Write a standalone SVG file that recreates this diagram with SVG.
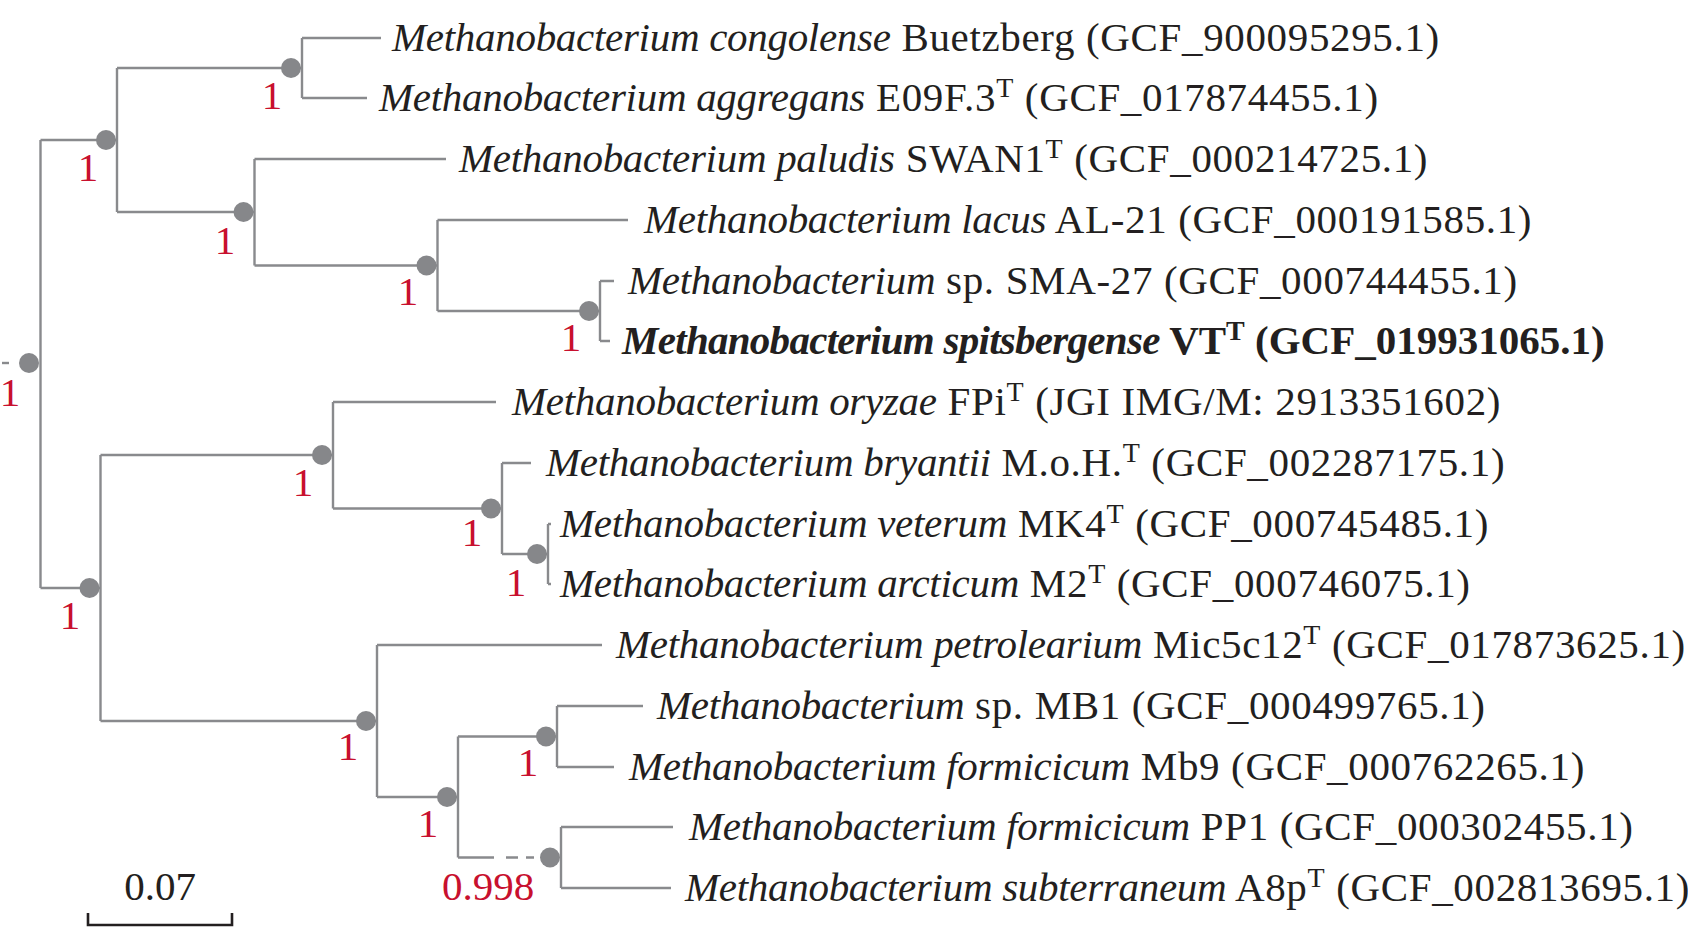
<svg xmlns="http://www.w3.org/2000/svg" width="1688" height="930" viewBox="0 0 1688 930">
<style>
.br{fill:none;stroke:#898a8d;stroke-width:2.4;stroke-linecap:butt}
.dot{fill:#86878a}
.lab{font-family:"Liberation Serif","Times New Roman",serif;font-size:41px;fill:#c8102e;text-anchor:middle}
.tx{font-family:"Liberation Serif","Times New Roman",serif;font-size:41px;fill:#231f20;letter-spacing:0.65px}
.it{font-style:italic;letter-spacing:-0.3px}
.tx.b{font-weight:bold;letter-spacing:0px}
.b .it{letter-spacing:-0.72px}
.sup{font-size:28px}
.sc{fill:none;stroke:#231f20;stroke-width:2.6}
.scl{font-family:"Liberation Serif","Times New Roman",serif;font-size:41px;fill:#231f20;text-anchor:middle}
</style>
<rect width="1688" height="930" fill="#ffffff"/>
<g id="connectors">
<path class="br" d="M2,363 H9"/>
<path class="br" d="M40.5,140 V588 M40.5,140 H117 M40.5,588 H100.5"/>
<path class="br" d="M117,68 V212 M117,68 H302 M117,212 H254.5"/>
<path class="br" d="M302,38 V98 M302,38 H381 M302,98 H367"/>
<path class="br" d="M254.5,159 V265.5 M254.5,159 H446 M254.5,265.5 H437.5"/>
<path class="br" d="M437.5,220 V311 M437.5,220 H628 M437.5,311 H600"/>
<path class="br" d="M600,281 V341 M600,281 H614 M600,341 H610"/>
<path class="br" d="M100.5,455 V721 M100.5,455 H333 M100.5,721 H377"/>
<path class="br" d="M333,402 V508.5 M333,402 H496 M333,508.5 H502"/>
<path class="br" d="M502,463 V554 M502,463 H531 M502,554 H548"/>
<path class="br" d="M548,524 V584 M548,524 H551 M548,584 H551"/>
<path class="br" d="M377,645 V797 M377,645 H602 M377,797 H458"/>
<path class="br" d="M458,736.5 V857.5 M458,736.5 H557 M458,857.5 H494 M506,857.5 H518 M526,857.5 H534"/>
<path class="br" d="M557,706 V767 M557,706 H643 M557,767 H614"/>
<path class="br" d="M561,827 V888 M561,827 H673 M561,888 H671"/>
</g>
<g id="node-root"><circle class="dot" cx="29" cy="363" r="10"/><text class="lab" x="10" y="406">1</text></g>
<g id="node-B"><circle class="dot" cx="106" cy="140" r="10"/><text class="lab" x="88" y="181">1</text></g>
<g id="node-A"><circle class="dot" cx="291" cy="68" r="10"/><text class="lab" x="272" y="109">1</text></g>
<g id="node-C"><circle class="dot" cx="243.5" cy="212" r="10"/><text class="lab" x="225" y="254">1</text></g>
<g id="node-D"><circle class="dot" cx="426.5" cy="265.5" r="10"/><text class="lab" x="408" y="305">1</text></g>
<g id="node-E"><circle class="dot" cx="589" cy="311" r="10"/><text class="lab" x="571" y="351">1</text></g>
<g id="node-I"><circle class="dot" cx="89.5" cy="588" r="10"/><text class="lab" x="70" y="629">1</text></g>
<g id="node-F"><circle class="dot" cx="322" cy="455" r="10"/><text class="lab" x="303" y="496">1</text></g>
<g id="node-G"><circle class="dot" cx="491" cy="508.5" r="10"/><text class="lab" x="472" y="546">1</text></g>
<g id="node-H"><circle class="dot" cx="537" cy="554" r="10"/><text class="lab" x="516" y="596">1</text></g>
<g id="node-J"><circle class="dot" cx="366" cy="721" r="10"/><text class="lab" x="348" y="760">1</text></g>
<g id="node-K"><circle class="dot" cx="447" cy="797" r="10"/><text class="lab" x="428" y="837">1</text></g>
<g id="node-L"><circle class="dot" cx="546" cy="736.5" r="10"/><text class="lab" x="528" y="776">1</text></g>
<g id="node-M"><circle class="dot" cx="550" cy="857.5" r="10"/><text class="lab" x="488" y="900">0.998</text></g>
<g id="leaf-congolense"><text class="tx" x="392" y="51"><tspan class="it">Methanobacterium congolense</tspan> Buetzberg (GCF_900095295.1)</text></g>
<g id="leaf-aggregans"><text class="tx" x="379" y="111"><tspan class="it">Methanobacterium aggregans</tspan> E09F.3<tspan class="sup" dy="-14">T</tspan><tspan dy="14"> (GCF_017874455.1)</tspan></text></g>
<g id="leaf-paludis"><text class="tx" x="459" y="172"><tspan class="it">Methanobacterium paludis</tspan> SWAN1<tspan class="sup" dy="-14">T</tspan><tspan dy="14"> (GCF_000214725.1)</tspan></text></g>
<g id="leaf-lacus"><text class="tx" x="644" y="233"><tspan class="it">Methanobacterium lacus</tspan> AL-21 (GCF_000191585.1)</text></g>
<g id="leaf-SMA27"><text class="tx" x="628" y="294"><tspan class="it">Methanobacterium</tspan> sp. SMA-27 (GCF_000744455.1)</text></g>
<g id="leaf-spitsbergense"><text class="tx b" x="622" y="354"><tspan class="it">Methanobacterium spitsbergense</tspan> VT<tspan class="sup" dy="-14">T</tspan><tspan dy="14"> (GCF_019931065.1)</tspan></text></g>
<g id="leaf-oryzae"><text class="tx" x="512" y="415"><tspan class="it">Methanobacterium oryzae</tspan> FPi<tspan class="sup" dy="-14">T</tspan><tspan dy="14"> (JGI IMG/M: 2913351602)</tspan></text></g>
<g id="leaf-bryantii"><text class="tx" x="546" y="476"><tspan class="it">Methanobacterium bryantii</tspan> M.o.H.<tspan class="sup" dy="-14">T</tspan><tspan dy="14"> (GCF_002287175.1)</tspan></text></g>
<g id="leaf-veterum"><text class="tx" x="560" y="537"><tspan class="it">Methanobacterium veterum</tspan> MK4<tspan class="sup" dy="-14">T</tspan><tspan dy="14"> (GCF_000745485.1)</tspan></text></g>
<g id="leaf-arcticum"><text class="tx" x="560" y="597"><tspan class="it">Methanobacterium arcticum</tspan> M2<tspan class="sup" dy="-14">T</tspan><tspan dy="14"> (GCF_000746075.1)</tspan></text></g>
<g id="leaf-petrolearium"><text class="tx" x="616" y="658"><tspan class="it">Methanobacterium petrolearium</tspan> Mic5c12<tspan class="sup" dy="-14">T</tspan><tspan dy="14"> (GCF_017873625.1)</tspan></text></g>
<g id="leaf-MB1"><text class="tx" x="657" y="719"><tspan class="it">Methanobacterium</tspan> sp. MB1 (GCF_000499765.1)</text></g>
<g id="leaf-Mb9"><text class="tx" x="629" y="780"><tspan class="it">Methanobacterium formicicum</tspan> Mb9 (GCF_000762265.1)</text></g>
<g id="leaf-PP1"><text class="tx" x="689" y="840"><tspan class="it">Methanobacterium formicicum</tspan> PP1 (GCF_000302455.1)</text></g>
<g id="leaf-subterraneum"><text class="tx" x="685" y="901"><tspan class="it">Methanobacterium subterraneum</tspan> A8p<tspan class="sup" dy="-14">T</tspan><tspan dy="14"> (GCF_002813695.1)</tspan></text></g>
<g id="scale-bar">
<path class="sc" d="M88,913 V925 H232 V913"/>
<text class="scl" x="160" y="900">0.07</text>
</g>
</svg>
